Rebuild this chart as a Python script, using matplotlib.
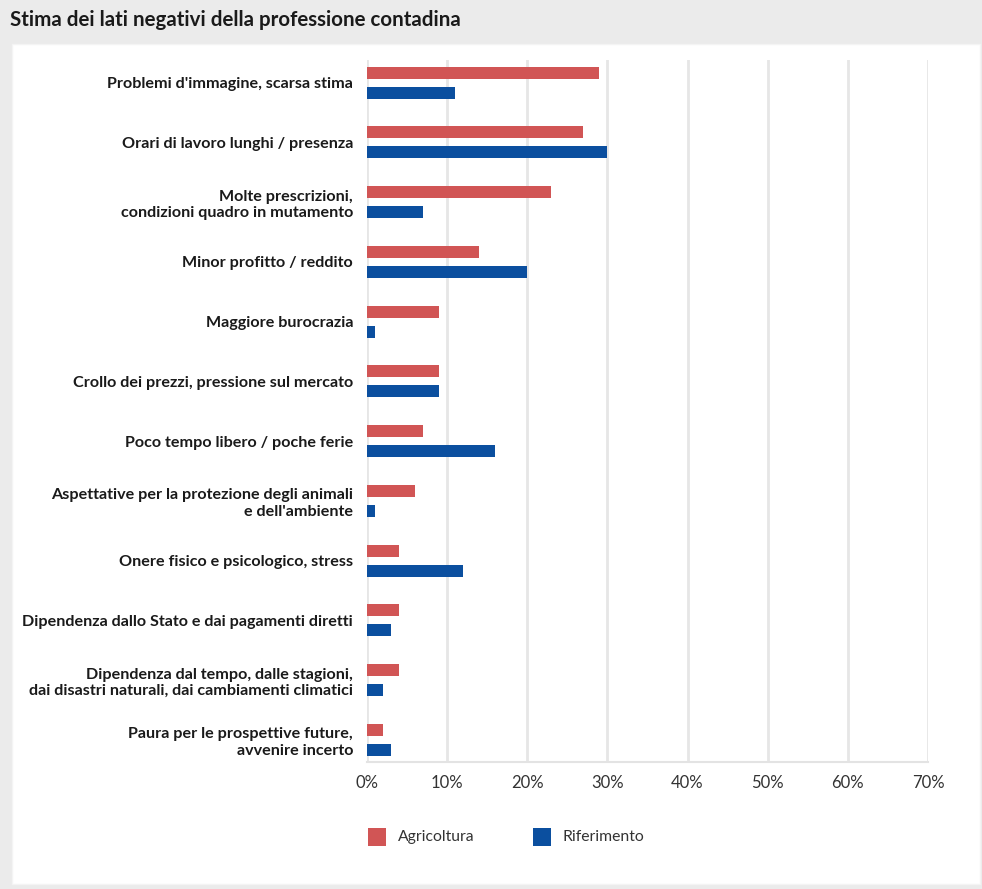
import matplotlib.pyplot as plt
import numpy as np
from matplotlib.patches import Rectangle

categorie = [
    "Problemi d'immagine, scarsa stima",
    "Orari di lavoro lunghi / presenza",
    "Molte prescrizioni,\ncondizioni quadro in mutamento",
    "Minor profitto / reddito",
    "Maggiore burocrazia",
    "Crollo dei prezzi, pressione sul mercato",
    "Poco tempo libero / poche ferie",
    "Aspettative per la protezione degli animali\ne dell'ambiente",
    "Onere fisico e psicologico, stress",
    "Dipendenza dallo Stato e dai pagamenti diretti",
    "Dipendenza dal tempo, dalle stagioni,\ndai disastri naturali, dai cambiamenti climatici",
    "Paura per le prospettive future,\navvenire incerto",
]
agricoltura = [29, 27, 23, 14, 9, 9, 7, 6, 4, 4, 4, 2]
riferimento = [11, 30, 7, 20, 1, 9, 16, 1, 12, 3, 2, 3]
tick_valori = [0, 10, 20, 30, 40, 50, 60, 70]

rosso = '#d15555'
blu = '#0b4f9f'
grigio = '#ebebeb'

plt.rcParams['font.family'] = ['Lato', 'DejaVu Sans']

fig = plt.figure(figsize=(9.82, 8.89), dpi=100)
fig.patch.set_facecolor(grigio)

# pannello bianco sotto il titolo
fig.patches.append(Rectangle((12 / 982, 5 / 889), 968 / 982, 840 / 889,
                             transform=fig.transFigure, facecolor='white',
                             edgecolor='#f4f4f4', lw=1, zorder=-10))
fig.text(10 / 982, 1 - 20 / 889, 'Stima dei lati negativi della professione contadina',
         fontsize=14.8, fontweight='bold', color='#1a1a1a', va='center', ha='left')

ax = fig.add_axes([367 / 982, 1 - 762 / 889, 561 / 982, 702 / 889])
ax.set_facecolor('none')

y = np.arange(len(categorie))
ax.barh(y - 0.167, agricoltura, height=0.2, color=rosso, zorder=3)
ax.barh(y + 0.167, riferimento, height=0.2, color=blu, zorder=3)

ax.set_xlim(0, 70)
ax.set_ylim(11.37, -0.38)
ax.set_xticks(tick_valori)
ax.set_xticklabels([f'{v}%' for v in tick_valori], fontsize=12, color='#333333')
ax.set_yticks(y)
ax.set_yticklabels(categorie, fontsize=11.6, fontweight='bold', color='#1a1a1a',
                   linespacing=1.2)
ax.tick_params(axis='y', length=0, pad=10)
ax.tick_params(axis='x', length=0, pad=9)
ax.grid(axis='x', color='#e6e6e6', lw=2, zorder=0)
for s in ['top', 'right', 'left']:
    ax.spines[s].set_visible(False)
ax.spines['bottom'].set_color('#e3e3e3')
ax.spines['bottom'].set_linewidth(1.5)

# legenda
fig.patches.append(Rectangle((368 / 982, 1 - 846 / 889), 18 / 982, 18 / 889,
                             transform=fig.transFigure, facecolor=rosso, zorder=2))
fig.text(398 / 982, 1 - 837 / 889, 'Agricoltura', fontsize=11.3, color='#333333', va='center')
fig.patches.append(Rectangle((533 / 982, 1 - 846 / 889), 18 / 982, 18 / 889,
                             transform=fig.transFigure, facecolor=blu, zorder=2))
fig.text(563 / 982, 1 - 837 / 889, 'Riferimento', fontsize=11.3, color='#333333', va='center')

fig.savefig('out.png', dpi=100, facecolor=fig.get_facecolor())
